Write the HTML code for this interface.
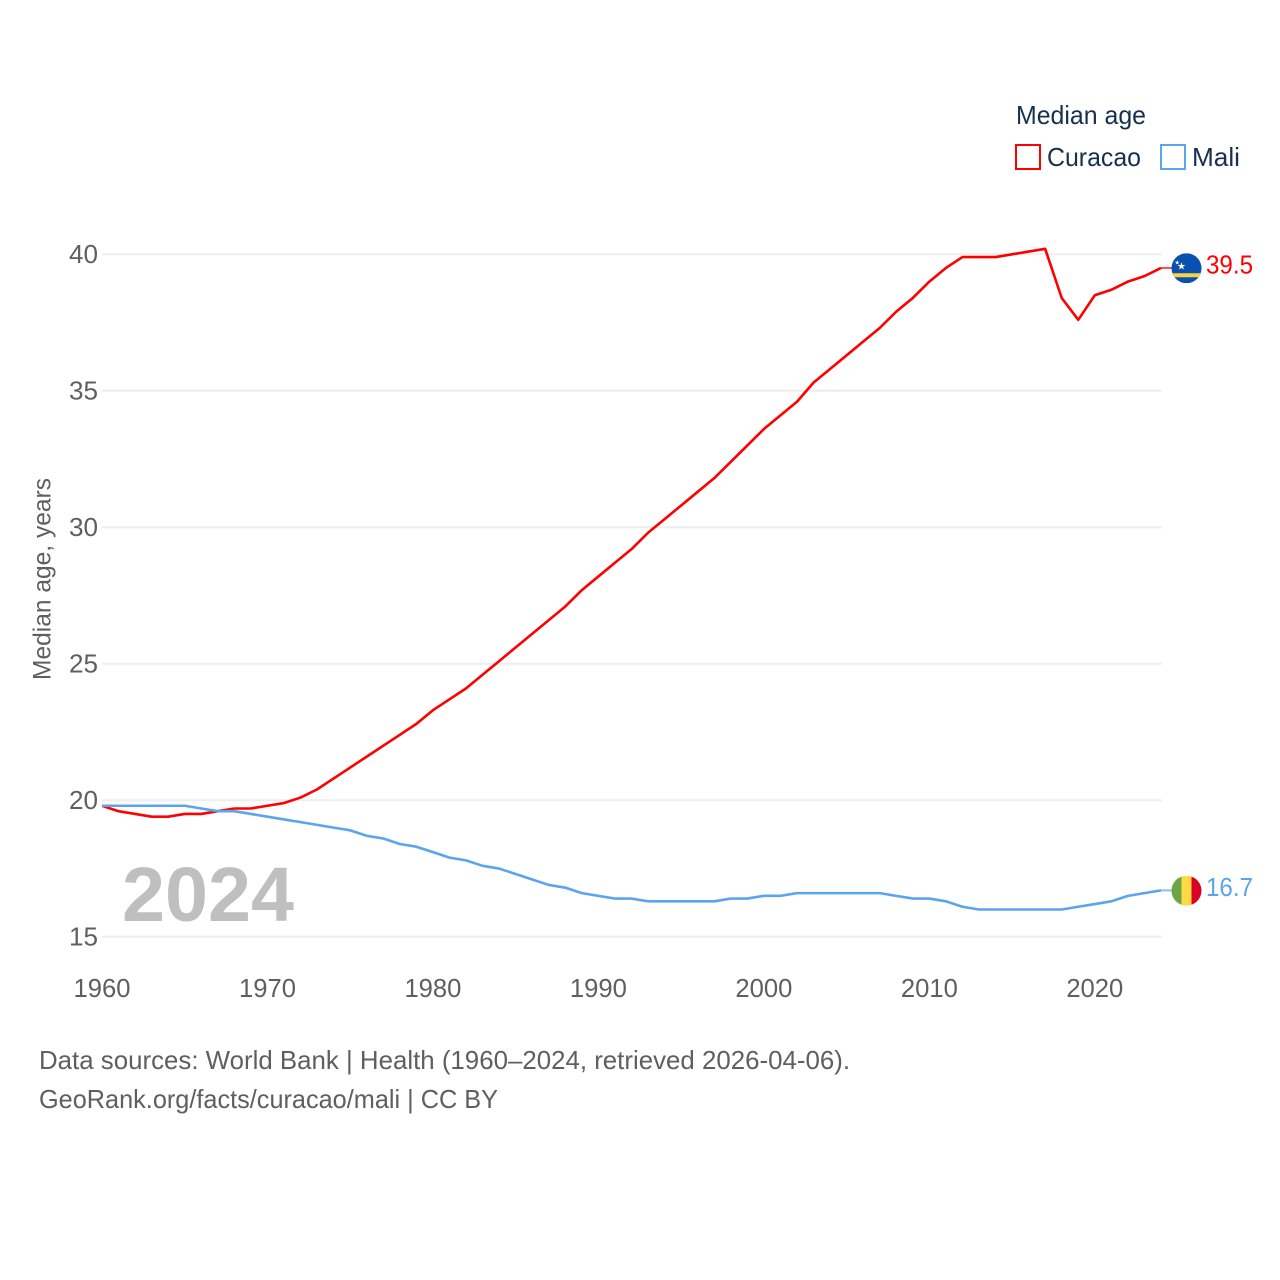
<!DOCTYPE html>
<html>
<head>
<meta charset="utf-8">
<title>Median age: Curacao and Mali</title>
<style>
html,body{margin:0;padding:0;background:#fff;}
svg{display:block;font-family:"Liberation Sans",sans-serif;}
</style>
</head>
<body>
<svg id="chart" width="1280" height="1280" viewBox="0 0 1280 1280" xmlns="http://www.w3.org/2000/svg">
  <rect width="1280" height="1280" fill="#fff"/>
  <g id="grid"></g>
  <g id="yticks"></g>
  <g id="xticks"></g>
  <text transform="translate(50.5,680) rotate(-90)" font-size="25" fill="#5f5f5f" textLength="202" lengthAdjust="spacingAndGlyphs">Median age, years</text>
  <text x="122" y="921" font-size="77" font-weight="bold" fill="#bfbfbf" textLength="172" lengthAdjust="spacingAndGlyphs">2024</text>
  <g id="series"></g>

  <g id="flag-curacao">
    <clipPath id="clipC"><circle cx="0" cy="0" r="15"/></clipPath>
    <g clip-path="url(#clipC)">
      <rect x="-15" y="-15" width="30" height="30" fill="#0a50b0"/>
      <rect x="-15" y="5" width="30" height="4" fill="#f9d340"/>
      <text x="-9.5" y="1" font-size="10" fill="#fff">★</text>
      <text x="-12" y="-4" font-size="6" fill="#fff">★</text>
    </g>
  </g>
  <g id="flag-mali">
    <clipPath id="clipM"><circle cx="0" cy="0" r="15"/></clipPath>
    <g clip-path="url(#clipM)">
      <rect x="-15" y="-15" width="10" height="30" fill="#6da544"/>
      <rect x="-5" y="-15" width="10" height="30" fill="#ffda44"/>
      <rect x="5" y="-15" width="10" height="30" fill="#d80027"/>
    </g>
  </g>

  <g>
    <text x="1016" y="124" font-size="26" fill="#18304f" textLength="130" lengthAdjust="spacingAndGlyphs">Median age</text>
    <rect x="1016" y="145" width="24" height="24" fill="#fff" stroke="#ff0000" stroke-width="2"/>
    <text x="1047" y="166" font-size="26" fill="#18304f" textLength="94" lengthAdjust="spacingAndGlyphs">Curacao</text>
    <rect x="1161" y="145" width="24" height="24" fill="#fff" stroke="#5ba4ee" stroke-width="2"/>
    <text x="1192" y="166" font-size="26" fill="#18304f" textLength="48" lengthAdjust="spacingAndGlyphs">Mali</text>
  </g>

  <text x="39" y="1069" font-size="26" fill="#5f5f5f" textLength="811" lengthAdjust="spacingAndGlyphs">Data sources: World Bank | Health (1960–2024, retrieved 2026-04-06).</text>
  <text x="39" y="1108" font-size="26" fill="#5f5f5f" textLength="459" lengthAdjust="spacingAndGlyphs">GeoRank.org/facts/curacao/mali | CC BY</text>
</svg>
<script>
const startYear = 1960;
const xTickLabels = [1960, 1970, 1980, 1990, 2000, 2010, 2020];
const yTickLabels = [15, 20, 25, 30, 35, 40];
const curacaoValues = [19.8,19.6,19.5,19.4,19.4,19.5,19.5,19.6,19.7,19.7,19.8,19.9,20.1,20.4,20.8,21.2,21.6,22.0,22.4,22.8,23.3,23.7,24.1,24.6,25.1,25.6,26.1,26.6,27.1,27.7,28.2,28.7,29.2,29.8,30.3,30.8,31.3,31.8,32.4,33.0,33.6,34.1,34.6,35.3,35.8,36.3,36.8,37.3,37.9,38.4,39.0,39.5,39.9,39.9,39.9,40.0,40.1,40.2,38.4,37.6,38.5,38.7,39.0,39.2,39.5];
const maliValues = [19.8,19.8,19.8,19.8,19.8,19.8,19.7,19.6,19.6,19.5,19.4,19.3,19.2,19.1,19.0,18.9,18.7,18.6,18.4,18.3,18.1,17.9,17.8,17.6,17.5,17.3,17.1,16.9,16.8,16.6,16.5,16.4,16.4,16.3,16.3,16.3,16.3,16.3,16.4,16.4,16.5,16.5,16.6,16.6,16.6,16.6,16.6,16.6,16.5,16.4,16.4,16.3,16.1,16.0,16.0,16.0,16.0,16.0,16.0,16.1,16.2,16.3,16.5,16.6,16.7];

const NS = 'http://www.w3.org/2000/svg';
function xScale(year){ return 102 + (year - 1960) * (1161 - 102) / 64; }
function yScale(v){ return 936.8 - (v - 15) * (936.8 - 254.3) / 25; }
function make(tag, attrs, text){
  const el = document.createElementNS(NS, tag);
  for (const k in attrs) el.setAttribute(k, attrs[k]);
  if (text !== undefined) el.textContent = text;
  return el;
}
const grid = document.getElementById('grid');
const yticks = document.getElementById('yticks');
const xticks = document.getElementById('xticks');
const seriesGroup = document.getElementById('series');

yTickLabels.forEach(function(v){
  const line = make('line', {x1:102, x2:1162, y1:yScale(v), y2:yScale(v), stroke:'#eeeeee', 'stroke-width':2});
  
  
  grid.appendChild(line);
  const label = make('text', {x:98, y:yScale(v)+8.5, 'text-anchor':'end', 'font-size':26, fill:'#5f5f5f', textLength:29, lengthAdjust:'spacingAndGlyphs'}, v);
  
  
  yticks.appendChild(label);
});

xTickLabels.forEach(function(y){
  const label = make('text', {x:xScale(y), y:997, 'text-anchor':'middle', 'font-size':26, fill:'#5f5f5f', textLength:57, lengthAdjust:'spacingAndGlyphs'}, y);
  
  
  xticks.appendChild(label);
});

function drawSeries(values, color, key, flagId){
  const pts = values.map(function(v, i){ return xScale(startYear + i) + ',' + yScale(v); }).join(' ');
  const lastValue = values[values.length - 1];
  const lastY = yScale(lastValue);
  const lastX = xScale(startYear + values.length - 1);

  const line = make('polyline', {points:pts, fill:'none', stroke:color, 'stroke-width':2.6, 'stroke-linejoin':'round'});
  
  
  seriesGroup.appendChild(line);

  const stub = make('line', {x1:lastX, x2:lastX + 11, y1:lastY, y2:lastY, stroke:color, 'stroke-width':2, opacity:0.7});
  
  
  seriesGroup.appendChild(stub);

  const value = make('text', {x:1206, y:lastY + 5.5, 'font-size':26, fill:color, textLength:47, lengthAdjust:'spacingAndGlyphs'}, lastValue.toFixed(1));
  
  
  seriesGroup.appendChild(value);

  document.getElementById(flagId).setAttribute('transform', 'translate(1186.5,' + (lastY + 0.3) + ')');
}
drawSeries(curacaoValues, '#ff0000', 'curacao', 'flag-curacao');
drawSeries(maliValues, '#5ba4ee', 'mali', 'flag-mali');
</script>
</body>
</html>
